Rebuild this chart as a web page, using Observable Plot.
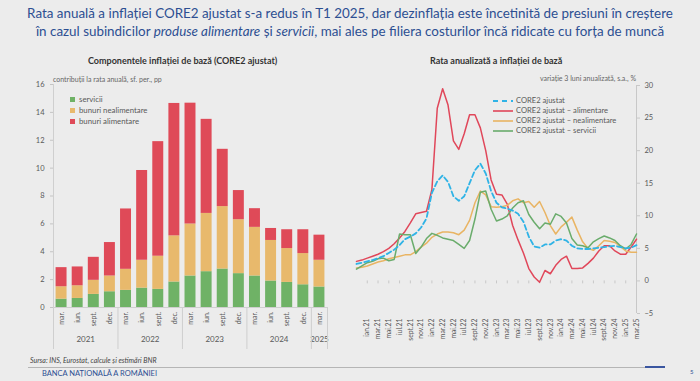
<!DOCTYPE html>
<html><head><meta charset="utf-8">
<script src="https://cdn.jsdelivr.net/npm/d3@7"></script>
<script src="https://cdn.jsdelivr.net/npm/@observablehq/plot@0.6"></script>
<style>
body{margin:0;background:#ececec;font-family:Lato,"Open Sans",sans-serif;}
#root{position:relative;width:700px;height:381px;overflow:hidden;background:#ececec;}
.abs{position:absolute;white-space:nowrap;}
.title{left:0;width:700px;top:4px;text-align:center;color:#2d4f92;font-size:13.4px;line-height:18px;}
.ctitle{font-weight:bold;color:#333;font-size:9px;}
.sub{color:#666;font-size:7px;}
.leg{font-size:7.8px;color:#595959;line-height:11px;}
.leg .sw{display:inline-block;width:5px;height:5px;margin-right:4px;vertical-align:0px;}
.rleg{font-size:7.6px;color:#595959;line-height:10px;}
.rleg svg{vertical-align:middle;margin-right:2px;}
svg{overflow:visible;}
</style></head><body><div id="root"></div>
<script>
// ---------- left chart data (contributions, pp) ----------
const barPeriods = ["mar.","iun.","sept.","dec.","mar.","iun.","sept.","dec.","mar.","iun.","sept.","dec.","mar.","iun.","sept.","dec.","mar."];
const barYears   = ["2021","2021","2021","2021","2022","2022","2022","2022","2023","2023","2023","2023","2024","2024","2024","2024","2025"];
const servicii     = [0.60,0.65,0.94,1.13,1.23,1.39,1.30,1.83,2.26,2.57,2.76,2.43,2.26,1.90,1.80,1.63,1.47];
const nealimentare = [0.89,0.91,1.01,1.13,1.51,2.00,2.38,3.31,3.73,4.18,4.48,3.87,3.49,2.91,2.43,2.24,1.92];
const alimentare   = [1.37,1.35,1.65,2.40,4.33,6.44,8.22,9.50,8.67,6.75,4.11,2.09,1.34,0.86,1.35,1.71,1.80];
const barSeries = ["servicii","bunuri nealimentare","bunuri alimentare"];
const barColors = ["#6fb266","#e8b96c","#df4a58"];
const leftTicks = [0,2,4,6,8,10,12,14,16];

// ---------- right chart data (3-month annualised, %) ----------
const monthLabels = ["nov.20","dec.20",
 "ian.21","feb.21","mar.21","apr.21","mai.21","iun.21","iul.21","aug.21","sept.21","oct.21","nov.21","dec.21",
 "ian.22","feb.22","mar.22","apr.22","mai.22","iun.22","iul.22","aug.22","sept.22","oct.22","nov.22","dec.22",
 "ian.23","feb.23","mar.23","apr.23","mai.23","iun.23","iul.23","aug.23","sept.23","oct.23","nov.23","dec.23",
 "ian.24","feb.24","mar.24","apr.24","mai.24","iun.24","iul.24","aug.24","sept.24","oct.24","nov.24","dec.24",
 "ian.25","feb.25","mar.25"];
const core2 = [2.6,2.8,3.0,3.2,3.5,3.8,4.3,4.8,5.5,6.4,6.8,7.3,8.2,9.6,13.5,15.3,16.2,15.2,13.0,12.3,13.0,15.0,17.0,18.0,16.5,13.8,12.0,11.3,11.1,10.8,10.3,9.1,6.8,5.3,5.1,5.6,5.6,6.2,6.4,6.2,5.4,5.0,4.9,4.9,5.0,5.1,5.2,5.3,5.4,5.2,5.0,5.1,5.5];
const core2Alim = [3.0,3.2,3.5,3.8,4.1,4.5,5.0,5.7,6.6,7.6,8.9,10.3,10.5,10.7,14.0,26.5,29.5,27.0,21.5,20.2,22.6,25.5,25.5,23.5,20.0,15.5,13.3,13.2,11.8,8.5,6.3,4.3,1.9,0.6,-0.2,1.6,1.1,2.4,3.3,3.8,1.9,1.9,2.0,2.7,3.5,4.6,5.4,5.4,4.6,4.1,4.1,5.2,6.4];
const core2Nealim = [2.0,2.1,2.3,2.6,2.9,3.1,3.4,3.6,3.8,4.0,4.0,4.5,5.2,5.8,6.7,7.2,7.5,7.5,7.4,7.1,7.8,9.3,12.0,13.8,13.2,11.4,11.3,11.4,11.6,12.3,12.6,12.0,12.2,11.3,12.2,10.5,8.5,7.2,8.3,9.0,9.8,7.8,6.0,5.0,4.7,5.4,6.2,6.1,5.9,5.3,4.6,4.4,4.4];
const core2Serv = [1.8,2.3,2.8,3.0,3.4,3.5,3.1,3.3,7.2,7.1,7.1,4.2,5.2,6.5,7.3,7.0,6.6,6.4,6.2,5.6,5.0,6.2,9.5,13.6,13.8,11.0,9.2,9.5,10.0,11.2,12.0,12.3,10.2,9.0,8.0,8.9,8.7,10.3,9.9,8.9,6.5,5.5,5.4,5.1,6.0,6.5,6.9,6.6,6.2,5.4,4.9,5.6,7.2];
const lineSeries = ["CORE2 ajustat","CORE2 ajustat – alimentare","CORE2 ajustat – nealimentare","CORE2 ajustat – servicii"];
const lineColors = ["#2fb3e6","#e0475a","#e9b463","#6aac6c"];
const rightTicks = [-5,0,5,10,15,20,25,30];

const root = document.getElementById("root");
function add(cls, html, css){const d=document.createElement("div");d.className="abs "+cls;d.innerHTML=html;Object.assign(d.style,css||{});root.appendChild(d);return d;}

add("title","Rata anuală a inflației CORE2 ajustat s-a redus în T1 2025, dar dezinflația este încetinită de presiuni în creștere<br>în cazul subindicilor <i>produse alimentare</i> și <i>servicii</i>, mai ales pe filiera costurilor încă ridicate cu forța de muncă");
add("ctitle","Componentele inflației de bază (CORE2 ajustat)",{left:"88px",top:"55px"});
add("ctitle","Rata anualizată a inflației de bază",{left:"430px",top:"55px"});
add("sub","contribuții la rata anuală, sf. per., pp",{left:"53px",top:"75px"});
add("sub","variație 3 luni anualizată, s.a., %",{right:"64px",top:"74px"});

// ---------- left chart ----------
const stacked = [];
barPeriods.forEach((p,i)=>{
  const vals=[servicii[i],nealimentare[i],alimentare[i]];
  let c=0;
  vals.forEach((v,k)=>{stacked.push({x1:i-0.34,x2:i+0.34,y1:c,y2:c+v,series:barSeries[k]});c+=v;});
});
const years=[...new Set(barYears)];
const yearCenter=new Map(years.map(y=>[d3.mean(barYears.map((yy,i)=>yy===y?i:null).filter(v=>v!==null)),y]));
const boundaries=[-0.5,...barYears.map((y,i)=>i>0&&y!==barYears[i-1]?i-0.5:null).filter(v=>v!==null),barYears.length-0.5];

const left = Plot.plot({
  width:360,height:285,marginLeft:53,marginRight:33,marginTop:14,marginBottom:48,
  style:{background:"transparent",fontFamily:"Lato, sans-serif",fontSize:"7.5px",color:"#595959"},
  x:{domain:[-0.5,barPeriods.length-0.5]},
  y:{domain:[0,16]},
  color:{domain:barSeries,range:barColors},
  marks:[
    Plot.rect(stacked,{x1:"x1",x2:"x2",y1:"y1",y2:"y2",fill:"series"}),
    Plot.ruleX([-0.5],{stroke:"#cfcfcf"}),
    Plot.ruleY([0],{stroke:"#cfcfcf"}),
    Plot.axisY({ticks:leftTicks,tickSize:3,tickPadding:6,stroke:"#c4c4c4",label:null,fontSize:7.5}),
    Plot.axisX({ticks:d3.range(barPeriods.length),tickFormat:i=>barPeriods[i],tickRotate:-90,tickSize:0,tickPadding:4,label:null,fontSize:7}),
    Plot.axisX({ticks:[...yearCenter.keys()],tickFormat:d=>String(yearCenter.get(d)),tickSize:0,tickPadding:29,label:null,fontSize:8}),
    Plot.axisX({ticks:boundaries,tickSize:42,tickFormat:()=>"",stroke:"#cfcfcf",label:null})
  ]
});
left.style.position="absolute";left.style.left="0px";left.style.top="70px";
root.appendChild(left);

// left legend
add("leg",barSeries.map((s,k)=>`<div><span class="sw" style="background:${barColors[k]}"></span>${s}</div>`).join(""),{left:"70px",top:"94px"});

// ---------- right chart ----------
const seriesVals=[core2,core2Alim,core2Nealim,core2Serv];
const longData=[];
seriesVals.forEach((arr,k)=>arr.forEach((v,i)=>longData.push({i,v,series:lineSeries[k]})));
const labelIdx=monthLabels.map((m,i)=>i).filter(i=>i>=2&&(i-2)%2===0);
const lastIdx=monthLabels.length-1;

const right = Plot.plot({
  width:360,height:285,marginLeft:16,marginRight:64,marginTop:15,marginBottom:42,
  style:{background:"transparent",fontFamily:"Lato, sans-serif",fontSize:"7.5px",color:"#595959"},
  x:{domain:[0,lastIdx]},
  y:{domain:[-5,30]},
  color:{domain:lineSeries,range:lineColors},
  marks:[
    Plot.ruleX(labelIdx,{y1:0,y2:-0.45,stroke:"#c8c8c8"}),
    Plot.ruleX([lastIdx],{stroke:"#c8c8c8"}),
    Plot.axisY({anchor:"right",ticks:rightTicks,tickSize:3,tickPadding:5,stroke:"#c8c8c8",label:null,fontSize:7.5}),
    Plot.axisX({ticks:labelIdx,tickFormat:i=>monthLabels[i],tickRotate:-90,tickSize:0,tickPadding:5,label:null,fontSize:6.8}),
    Plot.line(longData.filter(d=>d.series!==lineSeries[0]),{x:"i",y:"v",z:"series",stroke:"series",strokeWidth:1.5}),
    Plot.line(longData.filter(d=>d.series===lineSeries[0]),{x:"i",y:"v",stroke:"series",strokeWidth:1.8,strokeDasharray:"5,3"})
  ]
});
right.style.position="absolute";right.style.left="340px";right.style.top="70px";
root.appendChild(right);

// right legend
add("rleg",lineSeries.map((s,k)=>`<div><svg width="22" height="6"><line x1="1" y1="3" x2="21" y2="3" stroke="${lineColors[k]}" stroke-width="${k===0?1.8:1.6}" ${k===0?'stroke-dasharray="5,4"':''}/></svg>${s}</div>`).join(""),{left:"492px",top:"95px"});

// footer
add("","<i>Sursa: INS, Eurostat, calcule și estimări BNR</i>",{left:"30px",top:"356px",fontSize:"7px",color:"#444"});
add("","",{left:"28px",top:"367px",width:"620px",height:"1px",background:"#b5b5b5"});
add("","",{left:"645px",top:"366px",width:"20px",height:"2px",background:"#3a56a0"});
add("","BANCA NAȚIONALĂ A ROMÂNIEI",{left:"42px",top:"369px",fontSize:"7.5px",lineHeight:"10px",color:"#2d4f92",fontVariant:"small-caps"});
add("","5",{left:"690px",top:"368px",fontSize:"6px",lineHeight:"8px",color:"#2d4f92"});
</script></body></html>
